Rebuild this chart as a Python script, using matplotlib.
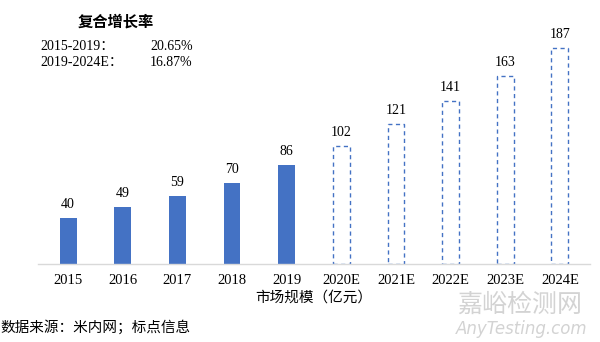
import matplotlib.pyplot as plt

# market size data (100 million yuan)
years = ['2015', '2016', '2017', '2018', '2019', '2020E', '2021E', '2022E', '2023E', '2024E']
actual = [40, 49, 59, 70, 86]
forecast = [102, 121, 141, 163, 187]
cagr_labels = ['2015-2019：', '2019-2024E：']
cagr_values = ['20.65%', '16.87%']

blue = '#4472C4'
serif = ['Liberation Serif', 'Noto Sans CJK SC']
cjk = ['Noto Sans CJK SC', 'DejaVu Sans']

fig = plt.figure(figsize=(6, 3.42), dpi=100)
ax = fig.add_axes([38 / 600, 1 - 264 / 342, 552 / 600, 244 / 342])

n_act = len(actual)
x_act = list(range(n_act))
x_fc = list(range(n_act, len(years)))

ax.bar(x_act, actual, width=0.31, color=blue)
ax.bar(x_fc, forecast, width=0.31, facecolor='white', edgecolor=blue,
       linestyle=(0, (3, 2.5)), linewidth=1.0)

for x, v in zip(x_act + x_fc, actual + forecast):
    ax.text(x, v + 6, str(v), ha='center', va='bottom', fontsize=10,
            family=serif)

ax.set_xlim(-0.55, len(years) - 0.45)
ax.set_ylim(0, 211)
ax.set_xticks(range(len(years)))
ax.set_xticklabels(years, family=serif, fontsize=10.5)
ax.tick_params(axis='x', length=0, pad=7)
ax.set_yticks([])
for side in ['top', 'left', 'right']:
    ax.spines[side].set_visible(False)
ax.spines['bottom'].set_color('#D9D9D9')
ax.spines['bottom'].set_linewidth(1.0)

ax.set_xlabel('市场规模（亿元）', family=cjk, fontsize=10.5, labelpad=3)

# CAGR text block
fig.text(116 / 600, 1 - 22 / 342, '复合增长率', family=cjk, fontsize=11,
         fontweight='bold', ha='center', va='center')
for i, (lab, val) in enumerate(zip(cagr_labels, cagr_values)):
    y = 1 - (46 + i * 16) / 342
    fig.text(40 / 600, y, lab, family=serif, fontsize=10, ha='left', va='center')
    fig.text(150 / 600, y, val, family=serif, fontsize=10, ha='left', va='center')

fig.text(0, 1 - 327 / 342, '数据来源：米内网；标点信息', family=cjk, fontsize=10.5,
         ha='left', va='center')

# watermark
fig.text(520 / 600, 1 - 305 / 342, '嘉峪检测网', family=cjk, fontsize=18,
         color='#D3D3D3', ha='center', va='center')
fig.text(522 / 600, 1 - 329 / 342, 'AnyTesting.com', family=['DejaVu Sans'],
         fontsize=12, style='italic', color='#D3D3D3', ha='center', va='center')

fig.savefig('out.png', dpi=100)
